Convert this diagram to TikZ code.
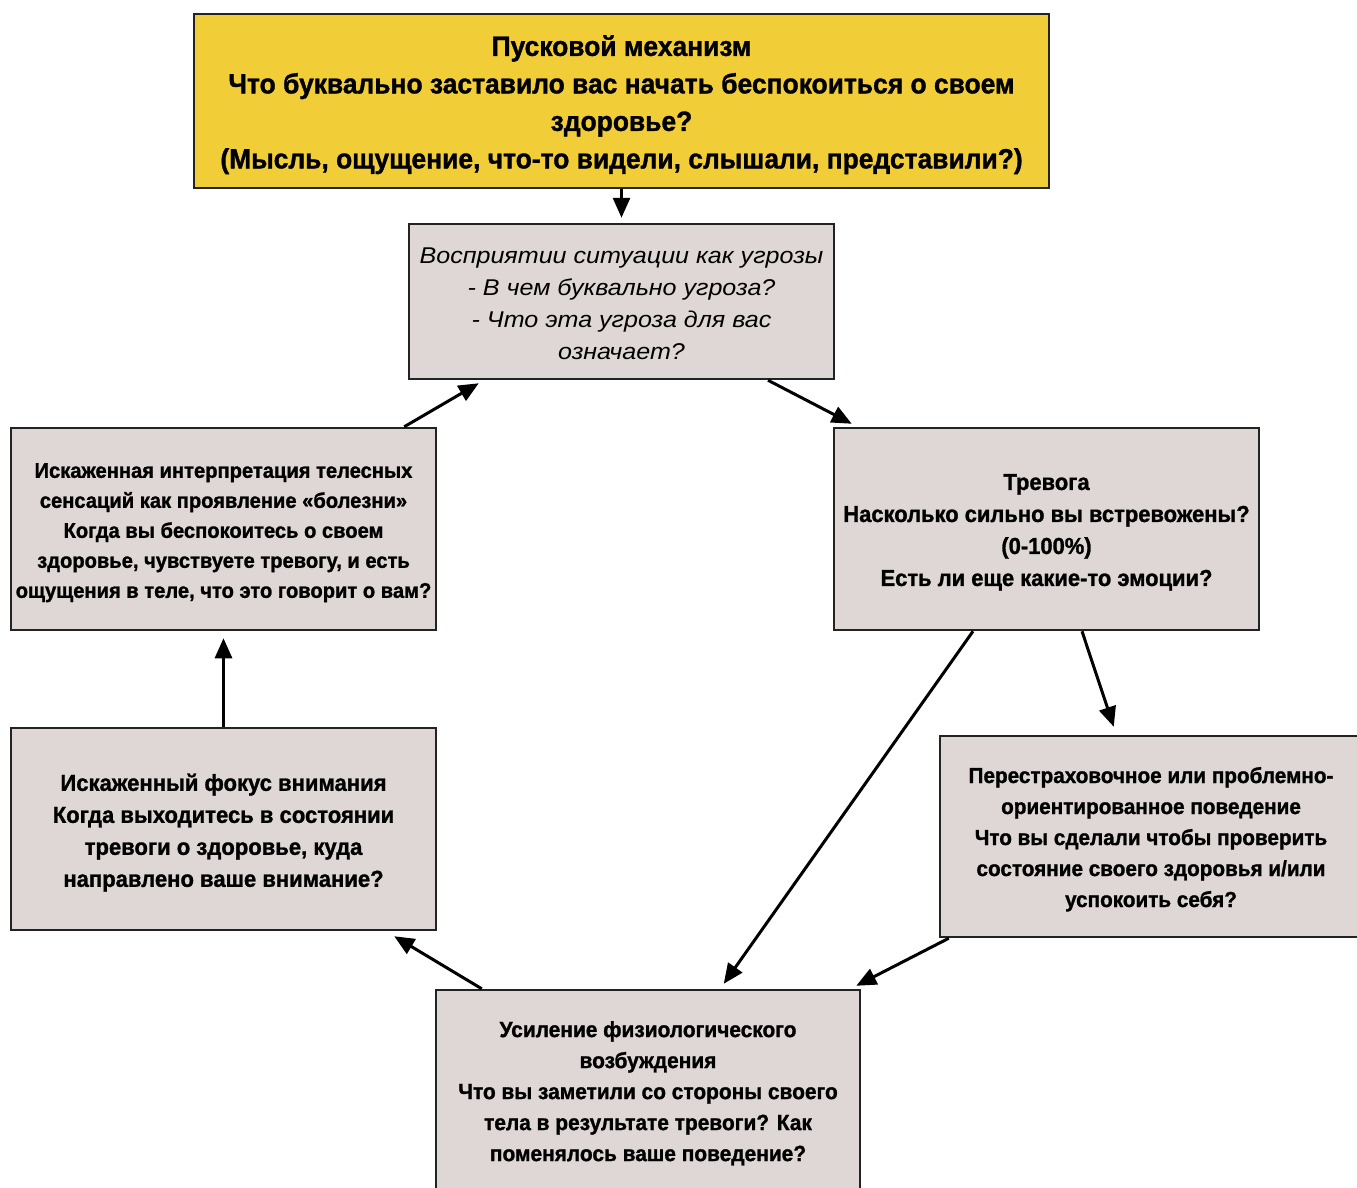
\documentclass[tikz,border=0pt]{standalone}
\usepackage{fontspec}
\setmainfont{Liberation Sans}[FakeStretch=0.95,BoldFeatures={FakeBold=1.2}]
\newfontfamily\threatfont{Liberation Sans}[FakeStretch=1.1]
\usetikzlibrary{arrows.meta}
\definecolor{boxfill}{RGB}{222,215,214}
\definecolor{trigger}{RGB}{241,206,56}
\definecolor{edgec}{RGB}{35,35,35}
\newcommand\liftby[1]{\rule{0pt}{#1}}
\begin{document}
\begin{tikzpicture}[x=1pt,y=-1pt,
  box/.style={draw=edgec,line width=2.5pt,fill=boxfill,rectangle,inner sep=0pt,align=center,minimum width=425pt,minimum height=202pt},
  arr/.style={draw=black,line width=3pt,-{Triangle[length=20pt,width=17pt]}}]
\useasboundingbox (0,0) rectangle (1357,1187);
\clip (0,0) rectangle (1357,1187);
\node[box,fill=trigger,minimum width=855pt,minimum height=174pt,font=\bfseries\fontsize{27.8}{37.5}\selectfont] (trig) at (621.5,101)
 {\liftby{28pt}Пусковой механизм\\Что буквально заставило вас начать беспокоиться о своем\\здоровье?\\(Мысль, ощущение, что-то видели, слышали, представили?)};
\node[box,minimum width=425pt,minimum height=155pt,font=\threatfont\itshape\fontsize{22.8}{32}\selectfont] (threat) at (621.5,301.5)
 {\liftby{21pt}Восприятии ситуации как угрозы\\- В чем буквально угроза?\\- Что эта угроза для вас\\означает?};
\node[box,font=\bfseries\fontsize{21.2}{30}\selectfont] (interp) at (223.5,529)
 {\liftby{22pt}Искаженная интерпретация телесных\\сенсаций как проявление «болезни»\\Когда вы беспокоитесь о своем\\здоровье, чувствуете тревогу, и есть\\ощущения в теле, что это говорит о вам?};
\node[box,font=\bfseries\fontsize{23.1}{32}\selectfont] (anx) at (1046.5,529)
 {\liftby{22.5pt}Тревога\\Насколько сильно вы встревожены?\\(0-100\%)\\Есть ли еще какие-то эмоции?};
\node[box,font=\bfseries\fontsize{23.2}{32}\selectfont] (focus) at (223.5,829)
 {\liftby{24.5pt}Искаженный фокус внимания\\Когда выходитесь в состоянии\\тревоги о здоровье, куда\\направлено ваше внимание?};
\node[box,minimum width=422pt,minimum height=201pt,font=\bfseries\fontsize{21.8}{31}\selectfont] (safe) at (1151,836.5)
 {\liftby{21.5pt}Перестраховочное или проблемно-\\ориентированное поведение\\Что вы сделали чтобы проверить\\состояние своего здоровья и/или\\успокоить себя?};
\node[box,minimum width=424pt,minimum height=203pt,font=\bfseries\fontsize{22}{31}\selectfont] (arous) at (648,1091.5)
 {\liftby{19.5pt}Усиление физиологического\\возбуждения\\Что вы заметили со стороны своего\\тела в результате тревоги? Как\\поменялось ваше поведение?};
\draw[arr,shorten >=5pt] (trig.south) -- (threat.north);
\draw[arr] ([xshift=146.5pt]threat.south) -- ([xshift=19pt,yshift=3pt]anx.north west);
\draw[arr] ([xshift=35.5pt]anx.south) -- ([xshift=175pt,yshift=8pt]safe.north west);
\draw[arr] ([xshift=-73.5pt]anx.south) -- ([xshift=289pt,yshift=5pt]arous.north west);
\draw[arr] ([xshift=10pt]safe.south west) -- ([xshift=-5pt,yshift=3pt]arous.north east);
\draw[arr] ([xshift=47pt]arous.north west) -- ([xshift=-43pt,yshift=-5pt]focus.south east);
\draw[arr,shorten >=7pt] (focus.north) -- (interp.south);
\draw[arr] ([xshift=-33pt]interp.north east) -- ([xshift=71pt,yshift=-3pt]threat.south west);
\end{tikzpicture}
\end{document}
